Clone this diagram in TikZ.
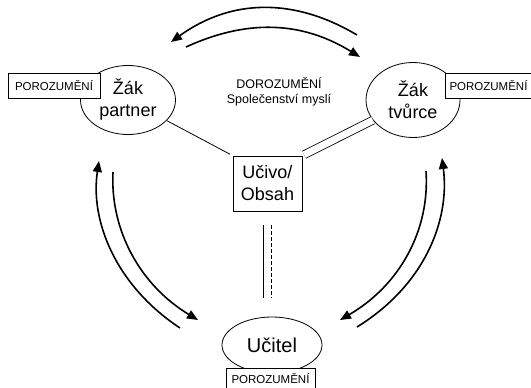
\documentclass[tikz,border=0pt]{standalone}
\usepackage{fontspec}
\setmainfont{Liberation Sans}
\usetikzlibrary{shapes.geometric,arrows.meta,calc}

\tikzset{
  role/.style={draw, ellipse, line width=0.8pt, inner sep=0pt, align=center,
    font=\fontsize{18}{22}\selectfont},
  tag/.style={draw, fill=white, line width=0.8pt, inner sep=0pt,
    minimum height=25pt, font=\fontsize{11.5}{13}\selectfont},
  content/.style={draw, line width=0.8pt, inner sep=0pt, align=center,
    minimum width=69pt, minimum height=55pt, font=\fontsize{18}{22}\selectfont},
  link/.style={line width=0.8pt},
  flow/.style={line width=1.6pt, -{Triangle[length=11pt, width=9pt]}},
}

\begin{document}
\begin{tikzpicture}[x=1pt, y=-1pt]
\useasboundingbox (0,0) rectangle (531,388);

% the three roles
\node[role, minimum width=95pt, minimum height=69pt] (partner) at (128,100) {Žák\\partner};
\node[role, minimum width=94pt, minimum height=75pt] (tvurce) at (413,100) {Žák\\tvůrce};
\node[role, minimum width=100pt, minimum height=56pt,
      font=\fontsize{20}{24}\selectfont] (ucitel) at (272,345) {Učitel};

% subject matter in the middle
\node[content] (obsah) at (267.5,183.5) {Učivo/\\Obsah};

% understanding tags
\node[tag, minimum width=92pt] (tagP) at (54,85.5) {POROZUMĚNÍ};
\node[tag, minimum width=87pt] (tagT) at (488.5,85.5) {POROZUMĚNÍ};
\node[tag, minimum width=89pt, minimum height=22pt] (tagU) at (270.5,379) {POROZUMĚNÍ};

% shared understanding
\node[align=center, font=\fontsize{12.5}{15}\selectfont] (shared) at (279,91.5)
  {DOROZUMĚNÍ\\Společenství myslí};

% links to the subject matter
\draw[link, shorten >=3pt] (partner) -- (obsah.north west);
\draw[link, double, double distance=7pt, shorten >=2pt] (tvurce) -- (obsah.north east);
\draw[link, shorten <=14pt, shorten >=19pt]
  ($(obsah.south)+(-4.5,0)$) -- ($(obsah.south |- ucitel.north)+(-4.5,0)$);
\draw[link, dash pattern=on 4pt off 2pt, shorten <=14pt, shorten >=19pt]
  ($(obsah.south)+(3.5,0)$) -- ($(obsah.south |- ucitel.north)+(3.5,0)$);

% arrow end points
\coordinate (t1) at (357,35);   \coordinate (t2) at (171,42);
\coordinate (t3) at (186,47);   \coordinate (t4) at (360,57);
\coordinate (l1) at (180,328);  \coordinate (l2) at (99,161);
\coordinate (l3) at (113,172);  \coordinate (l4) at (198,320);
\coordinate (r1) at (357,327);  \coordinate (r2) at (442,158);
\coordinate (r3) at (426,171);  \coordinate (r4) at (340,320);

% exchange between the pupils
\draw[flow] (t1) .. controls (295,-2) and (232,-2) .. (t2);
\draw[flow] (t3) .. controls (245,20) and (300,20) .. (t4);

% exchange between partner and teacher
\draw[flow] (l1) .. controls (115,285) and (90,220) .. (l2);
\draw[flow] (l3) .. controls (110,230) and (140,285) .. (l4);

% exchange between creator and teacher
\draw[flow] (r1) .. controls (425,285) and (450,220) .. (r2);
\draw[flow] (r3) .. controls (430,230) and (400,285) .. (r4);
\end{tikzpicture}
\end{document}
